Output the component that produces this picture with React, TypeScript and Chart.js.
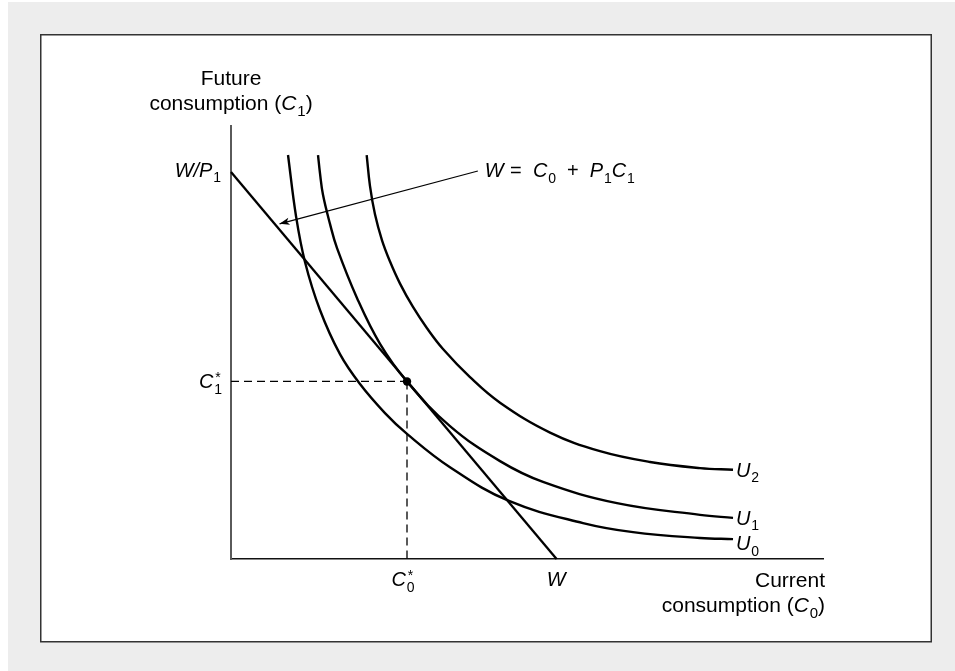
import React, { useEffect, useRef } from 'react';
import { Chart, registerables } from 'chart.js';
Chart.register(...registerables);

// ---- data (axis units 0..100) ----
const X_MAX = 100;
const Y_MAX = 100;

const u0X = [9.63, 10.98, 12.5, 15.03, 18.41, 21.79, 26.01, 29.73, 36.99, 46.96, 59.46, 67.91, 79.22, 84.8];
const u0Y = [93.3, 79.2, 68.6, 57.5, 47.3, 40.4, 33.7, 28.9, 21.2, 13.4, 8.3, 6.2, 4.85, 4.6];

const u1X = [14.7, 15.03, 15.54, 16.72, 17.91, 21.28, 25.17, 29.73, 36.99, 45.44, 52.7, 65.2, 79.22, 84.8];
const u1Y = [93.3, 89.1, 84.1, 77.4, 71.8, 60.3, 49.7, 41.0, 30.7, 22.6, 17.8, 12.9, 10.2, 9.5];

const u2X = [22.92, 23.48, 24.32, 25.51, 26.86, 28.55, 30.74, 33.11, 35.81, 40.37, 45.44, 53.89, 62.33, 70.78, 79.22, 84.8];
const u2Y = [93.3, 86.1, 79.6, 73.6, 68.7, 63.6, 58.2, 53.3, 48.5, 42.0, 36.1, 29.2, 24.9, 22.4, 21.0, 20.6];

const budgetX = [0, 55];
const budgetY = [89.4, 0];

const optimumX = 29.73;
const optimumY = 41.0;

const arrowX = [41.7, 8.2];
const arrowY = [89.6, 77.4];

const curveLabels = ['U0', 'U1', 'U2'];

const FAM = '"Liberation Sans", Arial, Helvetica, sans-serif';

type Seg = { t: string; k: 'n' | 'i' | 'b' | 'p' | 'bp'; u?: string };

function drawRich(ctx: CanvasRenderingContext2D, segs: Seg[], x: number, y: number, align: 'left' | 'right' | 'center', size = 20) {
  const small = Math.round(size * 0.7);
  const set = (it: boolean, sz: number) => { ctx.font = `${it ? 'italic ' : ''}${sz}px ${FAM}`; };
  const widths = segs.map((s) => {
    if (s.k === 'b' || s.k === 'p') { set(false, small); return ctx.measureText(s.t).width; }
    if (s.k === 'bp') { set(false, small); return Math.max(ctx.measureText(s.t).width, ctx.measureText(s.u || '').width); }
    set(s.k === 'i', size);
    return ctx.measureText(s.t).width + (s.k === 'i' ? size * 0.04 : 0);
  });
  const total = widths.reduce((a, b) => a + b, 0);
  let cx = align === 'left' ? x : align === 'right' ? x - total : x - total / 2;
  ctx.textAlign = 'left';
  ctx.textBaseline = 'alphabetic';
  ctx.fillStyle = '#000';
  segs.forEach((s, i) => {
    if (s.k === 'b') { set(false, small); ctx.fillText(s.t, cx, y + size * 0.28); }
    else if (s.k === 'p') { set(false, small); ctx.fillText(s.t, cx, y - size * 0.42); }
    else if (s.k === 'bp') {
      set(false, small);
      ctx.fillText(s.t, cx, y + size * 0.28);
      ctx.fillText(s.u || '', cx + 1, y - size * 0.32);
    } else { set(s.k === 'i', size); ctx.fillText(s.t, cx, y); }
    cx += widths[i];
  });
}

const decor = {
  id: 'decor',
  beforeDraw(chart: any) {
    const ctx: CanvasRenderingContext2D = chart.ctx;
    const { width, height } = chart;
    ctx.save();
    ctx.fillStyle = '#ffffff';
    ctx.fillRect(0, 0, width, height);
    ctx.fillStyle = '#ededed';
    ctx.fillRect(8, 2, width - 8, height - 2);
    ctx.fillStyle = '#ffffff';
    ctx.fillRect(40, 34, 892, 608);
    ctx.strokeStyle = '#333333';
    ctx.lineWidth = 1.5;
    ctx.strokeRect(40.75, 34.75, 890.5, 607);
    ctx.restore();
  },
  afterDraw(chart: any) {
    const ctx: CanvasRenderingContext2D = chart.ctx;
    const xs = chart.scales.x;
    const ys = chart.scales.y;
    const ca = chart.chartArea;
    ctx.save();

    // arrowhead
    const am = chart.getDatasetMeta(6).data;
    const p0 = am[0], p1 = am[1];
    const ang = Math.atan2(p1.y - p0.y, p1.x - p0.x);
    const L = 10, H = 3.6;
    ctx.fillStyle = '#000';
    ctx.beginPath();
    ctx.moveTo(p1.x, p1.y);
    ctx.lineTo(p1.x - L * Math.cos(ang) + H * Math.sin(ang), p1.y - L * Math.sin(ang) - H * Math.cos(ang));
    ctx.lineTo(p1.x - L * 0.75 * Math.cos(ang), p1.y - L * 0.75 * Math.sin(ang));
    ctx.lineTo(p1.x - L * Math.cos(ang) - H * Math.sin(ang), p1.y - L * Math.sin(ang) + H * Math.cos(ang));
    ctx.closePath();
    ctx.fill();

    // axis titles
    drawRich(ctx, [{ t: 'Future', k: 'n' }], ca.left, ca.top - 41, 'center', 21);
    drawRich(ctx, [{ t: 'consumption (', k: 'n' }, { t: 'C', k: 'i' }, { t: '1', k: 'b' }, { t: ')', k: 'n' }], ca.left, ca.top - 16, 'center', 21);
    drawRich(ctx, [{ t: 'Current', k: 'n' }], ca.right + 2, ca.bottom + 28, 'right', 21);
    drawRich(ctx, [{ t: 'consumption (', k: 'n' }, { t: 'C', k: 'i' }, { t: '0', k: 'b' }, { t: ')', k: 'n' }], ca.right + 2, ca.bottom + 53, 'right', 21);

    // W/P1
    const wpY = ys.getPixelForValue(budgetY[0]);
    drawRich(ctx, [{ t: 'W/P', k: 'i' }, { t: '1', k: 'b' }], ca.left - 10, wpY + 5, 'right', 20);
    // W on x-axis
    const wX = xs.getPixelForValue(budgetX[1]);
    drawRich(ctx, [{ t: 'W', k: 'i' }], wX, ca.bottom + 27, 'center', 20);
    // C0*, C1*
    const oX = xs.getPixelForValue(optimumX);
    const oY = ys.getPixelForValue(optimumY);
    drawRich(ctx, [{ t: 'C', k: 'i' }, { t: '0', k: 'bp', u: '*' }], oX - 4, ca.bottom + 27, 'center', 20);
    drawRich(ctx, [{ t: 'C', k: 'i' }, { t: '1', k: 'bp', u: '*' }], ca.left - 9, oY + 7, 'right', 20);
    // budget equation
    drawRich(ctx, [
      { t: 'W', k: 'i' }, { t: ' =  ', k: 'n' }, { t: 'C', k: 'i' }, { t: '0', k: 'b' }, { t: '  +  ', k: 'n' },
      { t: 'P', k: 'i' }, { t: '1', k: 'b' }, { t: 'C', k: 'i' }, { t: '1', k: 'b' },
    ], p0.x + 7, p0.y + 6, 'left', 20);

    // curve labels
    const ends = [[u0X, u0Y, 4], [u1X, u1Y, 0], [u2X, u2Y, 0]] as any[];
    ends.forEach(([xa, ya, off], i) => {
      const ex = xs.getPixelForValue(xa[xa.length - 1]);
      const ey = ys.getPixelForValue(ya[ya.length - 1]);
      const lab = curveLabels[i];
      drawRich(ctx, [{ t: lab[0], k: 'i' }, { t: lab.slice(1), k: 'b' }], ex + 3, ey + 7 + off, 'left', 20);
    });
    ctx.restore();
  },
};

const pts = (xa: number[], ya: number[]) => xa.map((x, i) => ({ x, y: ya[i] }));

export default function App() {
  const ref = useRef<HTMLCanvasElement | null>(null);
  useEffect(() => {
    if (!ref.current) return;
    const curve = (xa: number[], ya: number[]) => ({
      data: pts(xa, ya),
      showLine: true,
      borderColor: '#000',
      borderWidth: 2.4,
      pointRadius: 0,
      tension: 0.4,
      fill: false,
    });
    const chart = new Chart(ref.current, {
      type: 'scatter',
      data: {
        datasets: [
          curve(u0X, u0Y),
          curve(u1X, u1Y),
          curve(u2X, u2Y),
          { data: pts(budgetX, budgetY), showLine: true, borderColor: '#000', borderWidth: 2.3, pointRadius: 0 },
          { data: [{ x: 0, y: optimumY }, { x: optimumX, y: optimumY }], showLine: true, borderColor: '#000', borderWidth: 1.3, borderDash: [8, 5], pointRadius: 0 },
          { data: [{ x: optimumX, y: optimumY }, { x: optimumX, y: 0 }], showLine: true, borderColor: '#000', borderWidth: 1.3, borderDash: [8, 5], pointRadius: 0 },
          { data: pts(arrowX, arrowY), showLine: true, borderColor: '#000', borderWidth: 1.2, pointRadius: 0 },
          { data: [{ x: optimumX, y: optimumY }], showLine: false, pointRadius: 4.2, backgroundColor: '#000', borderColor: '#000', borderWidth: 0 },
        ] as any,
      },
      options: {
        responsive: false,
        animation: false,
        events: [],
        clip: false as any,
        layout: { padding: { left: 231, top: 126, right: 132, bottom: 112 } },
        plugins: { legend: { display: false }, tooltip: { enabled: false } },
        scales: {
          x: {
            type: 'linear', min: 0, max: X_MAX,
            grid: { display: false, drawTicks: false },
            ticks: { display: false },
            border: { display: true, color: '#111', width: 1.5 },
          },
          y: {
            type: 'linear', min: 0, max: Y_MAX,
            grid: { display: false, drawTicks: false },
            ticks: { display: false },
            border: { display: true, color: '#5a5a5a', width: 2 },
          },
        },
      },
      plugins: [decor],
    });
    return () => chart.destroy();
  }, []);
  return (
    <div style={{ position: 'fixed', left: 0, top: 0, width: 955, height: 671 }}>
      <canvas ref={ref} width={955} height={671} style={{ display: 'block', width: 955, height: 671 }} />
    </div>
  );
}
